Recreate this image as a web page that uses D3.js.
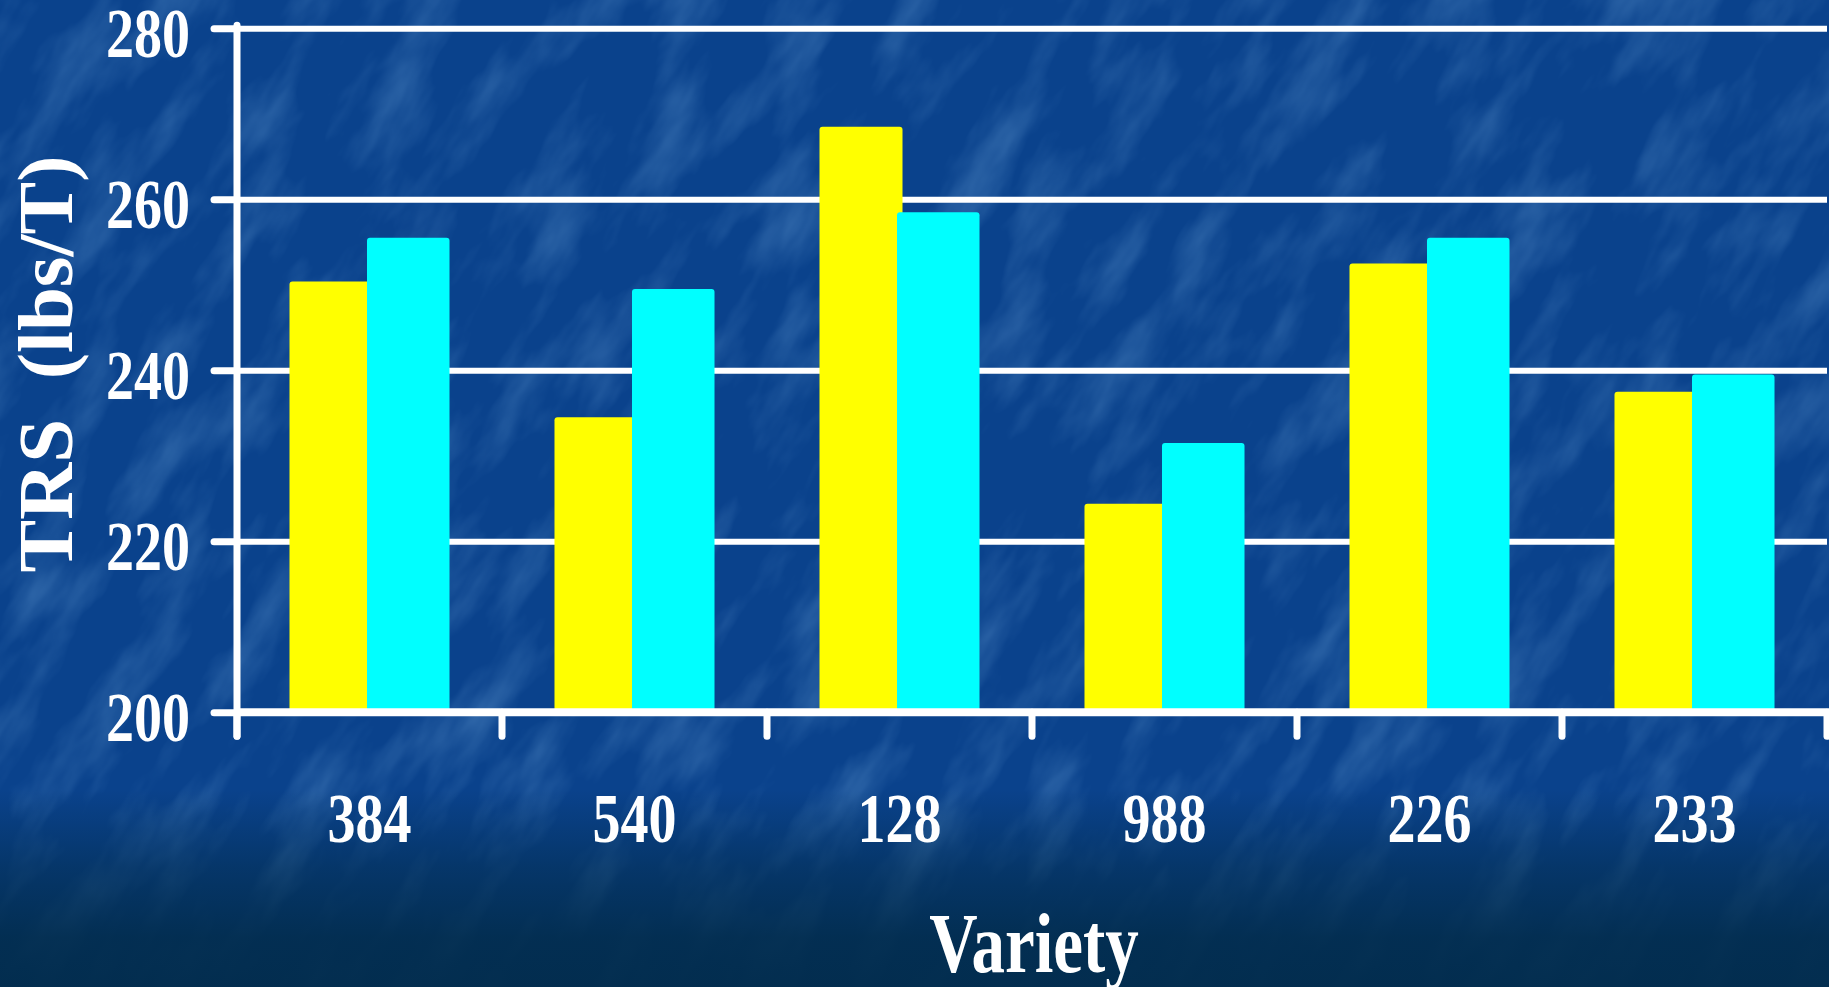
<!DOCTYPE html>
<html>
<head>
<meta charset="utf-8">
<script src="https://cdn.jsdelivr.net/npm/d3@7"></script>
<style>
  html, body { margin: 0; padding: 0; overflow: hidden; background: #0a428c; }
  svg { display: block; }
</style>
</head>
<body>
<svg id="chart" width="1829" height="987"></svg>
<script>
// data
const categories = ["384", "540", "128", "988", "226", "233"];
const yellowValues = [250.4, 234.5, 268.5, 224.4, 252.5, 237.5];
const cyanValues = [255.5, 249.5, 258.5, 231.5, 255.5, 239.5];
const yTicks = [200, 220, 240, 260, 280];
const gridTicks = [220, 240, 260, 280];

const svgWidth = 1829;
const svgHeight = 987;
const plot = { left: 237, right: 1827, top: 28.3, bottom: 712.3 };
const fontFamily = "'Liberation Serif', 'Times New Roman', serif";
const stretch = 1.23; // slide text is stretched vertically

const svg = d3.select("#chart");
const defs = svg.append("defs");

// background: textured blue, darker towards the bottom
const fade = defs.append("linearGradient")
  .attr("id", "fade")
  .attr("x1", 0).attr("y1", 0).attr("x2", 0).attr("y2", 1);
fade.append("stop").attr("offset", "0.80").attr("stop-color", "#022c4c").attr("stop-opacity", 0);
fade.append("stop").attr("offset", "0.88").attr("stop-color", "#022c4c").attr("stop-opacity", 0.55);
fade.append("stop").attr("offset", "0.95").attr("stop-color", "#022c4c").attr("stop-opacity", 0.9);
fade.append("stop").attr("offset", "1").attr("stop-color", "#022c4c").attr("stop-opacity", 0.95);

const tex = defs.append("filter")
  .attr("id", "tex")
  .attr("x", 0).attr("y", 0).attr("width", "100%").attr("height", "100%");
tex.append("feTurbulence")
  .attr("type", "fractalNoise")
  .attr("baseFrequency", "0.008 0.022")
  .attr("numOctaves", 4)
  .attr("seed", 11);
tex.append("feColorMatrix")
  .attr("type", "matrix")
  .attr("values", "0 0 0 0 0.20  0 0 0 0 0.45  0 0 0 0 0.78  0 0 0 1.6 -0.72");

svg.append("rect")
  .attr("width", svgWidth)
  .attr("height", svgHeight)
  .attr("fill", "#0a428c");

svg.append("g")
  .attr("transform", `translate(${svgWidth / 2},${svgHeight / 2}) rotate(-58)`)
  .append("rect")
  .attr("x", -1300).attr("y", -1300)
  .attr("width", 2600).attr("height", 2600)
  .attr("filter", "url(#tex)")
  .attr("opacity", 0.4);

svg.append("rect")
  .attr("width", svgWidth)
  .attr("height", svgHeight)
  .attr("fill", "url(#fade)");

// scales
const x = d3.scaleBand().domain(categories).range([plot.left, plot.right]);
const sub = d3.scaleBand()
  .domain([0, 1])
  .range([0, x.bandwidth()])
  .paddingOuter(0.656);
const y = d3.scaleLinear().domain([200, 280]).range([plot.bottom, plot.top]);

// gridlines
svg.append("g")
  .attr("class", "grid")
  .attr("transform", `translate(${plot.left},0)`)
  .call(d3.axisLeft(y).tickValues(gridTicks).tickSize(-(plot.right - plot.left)).tickFormat(""))
  .call(g => g.select(".domain").remove())
  .call(g => g.selectAll("line").attr("stroke", "#ffffff").attr("stroke-width", 6));

// bars
const rows = categories.map((c, i) => ({ cat: c, values: [yellowValues[i], cyanValues[i]] }));
const colors = ["#ffff00", "#00ffff"];

const group = svg.selectAll(".bar-group")
  .data(rows)
  .enter()
  .append("g")
  .attr("class", "bar-group")
  .attr("transform", d => `translate(${x(d.cat)},0)`);

group.selectAll("rect")
  .data(d => d.values.map((v, k) => ({ k, v })))
  .enter()
  .append("rect")
  .attr("x", d => sub(d.k) - (d.k === 1 ? 2.5 : 0))
  .attr("width", d => sub.bandwidth() + (d.k === 1 ? 2.5 : 3))
  .attr("y", d => y(d.v))
  .attr("height", d => y(200) - y(d.v))
  .attr("rx", 3)
  .attr("fill", d => colors[d.k]);

// y axis with ticks and labels
const yAxis = svg.append("g")
  .attr("transform", `translate(${plot.left},0)`)
  .call(d3.axisLeft(y).tickValues(yTicks).tickSize(23).tickPadding(24));
yAxis.select(".domain").remove();
yAxis.selectAll("line")
  .attr("stroke", "#ffffff")
  .attr("stroke-width", 7)
  .attr("stroke-linecap", "round");
yAxis.selectAll("text")
  .attr("dy", null)
  .attr("y", 27.7 / stretch)
  .attr("transform", `scale(1,${stretch})`)
  .attr("fill", "#ffffff")
  .style("font-family", fontFamily)
  .style("font-weight", "bold")
  .style("font-size", "56px");

svg.append("line")
  .attr("x1", plot.left).attr("x2", plot.left)
  .attr("y1", plot.top - 3).attr("y2", plot.bottom + 24)
  .attr("stroke", "#ffffff")
  .attr("stroke-width", 7)
  .attr("stroke-linecap", "round");

// x axis
const xAxis = svg.append("g")
  .attr("transform", `translate(0,${plot.bottom})`)
  .call(d3.axisBottom(x).tickSize(0).tickPadding(0));
xAxis.select(".domain").remove();
xAxis.selectAll("text")
  .attr("dy", null)
  .attr("y", 130 / stretch)
  .attr("transform", `scale(1,${stretch})`)
  .attr("fill", "#ffffff")
  .style("font-family", fontFamily)
  .style("font-weight", "bold")
  .style("font-size", "56px");

svg.append("line")
  .attr("x1", plot.left).attr("x2", plot.right + 2)
  .attr("y1", plot.bottom).attr("y2", plot.bottom)
  .attr("stroke", "#ffffff")
  .attr("stroke-width", 8);

const bounds = categories.map(c => x(c)).concat([plot.right]);
svg.append("g")
  .selectAll("line")
  .data(bounds)
  .enter()
  .append("line")
  .attr("x1", d => d).attr("x2", d => d)
  .attr("y1", plot.bottom).attr("y2", plot.bottom + 24)
  .attr("stroke", "#ffffff")
  .attr("stroke-width", 7)
  .attr("stroke-linecap", "round");

// axis titles
svg.append("text")
  .attr("transform", `translate(72,364) rotate(-90)`)
  .attr("text-anchor", "middle")
  .attr("fill", "#ffffff")
  .style("font-family", fontFamily)
  .style("font-weight", "bold")
  .style("font-size", "79px")
  .style("white-space", "pre")
  .text("TRS  (lbs/T)");

svg.append("text")
  .attr("transform", `translate(1034,971.7) scale(1,${stretch + 0.03})`)
  .attr("text-anchor", "middle")
  .attr("fill", "#ffffff")
  .style("font-family", fontFamily)
  .style("font-weight", "bold")
  .style("font-size", "67px")
  .text("Variety");
</script>
</body>
</html>
